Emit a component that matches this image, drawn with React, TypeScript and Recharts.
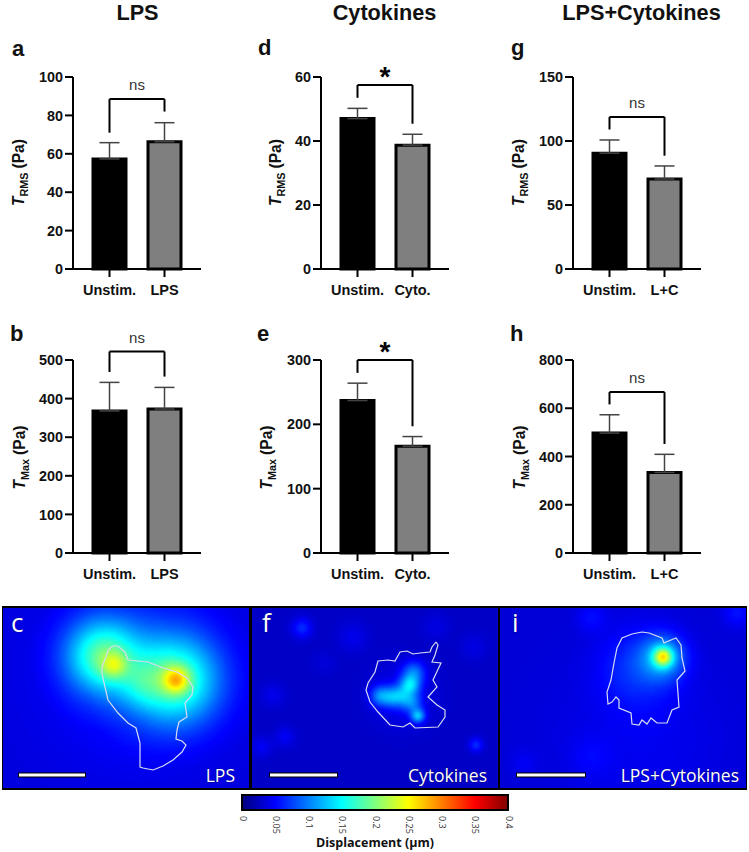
import React from 'react';
import {
  BarChart, Bar, Cell, XAxis, YAxis, ErrorBar, ReferenceLine, ReferenceArea, Label,
  ScatterChart, Scatter,
} from 'recharts';

const FONT = '"Liberation Sans", Arial, sans-serif';
const PANEL_FONT = '"Open Sans", sans-serif';

// bar values: [Unstim., treated]
const catsLps = ['Unstim.', 'LPS'];
const catsCyto = ['Unstim.', 'Cyto.'];
const catsBoth = ['Unstim.', 'L+C'];

const rmsLps = [57.3, 66.3];
const rmsLpsErr = [8.5, 9.9];
const maxLps = [368, 373];
const maxLpsErr = [74, 56];
const rmsCyto = [47, 38.7];
const rmsCytoErr = [3.2, 3.4];
const maxCyto = [237, 166];
const maxCytoErr = [27, 15];
const rmsBoth = [90.5, 70.3];
const rmsBothErr = [10.3, 10.2];
const maxBoth = [497, 334];
const maxBothErr = [76, 75];

const ticksA = [0, 20, 40, 60, 80, 100];
const ticksB = [0, 100, 200, 300, 400, 500];
const ticksD = [0, 20, 40, 60];
const ticksE = [0, 100, 200, 300];
const ticksG = [0, 50, 100, 150];
const ticksH = [0, 200, 400, 600, 800];

// significance brackets: [bar height, left leg end, right leg end]
const bracketA = [88.5, 71, 82];
const bracketB = [522, 469, 457];
const bracketD = [57.5, 53.5, 45.4];
const bracketE = [300, 280, 197];
const bracketG = [118.8, 109, 88.5];
const bracketH = [667, 616, 452];

// heat map hot spots: [x, y, spread, level] in panel pixels
const spotsLps = [
  [100, 48, 25, 0.38], [172, 72, 30, 0.38], [135, 60, 55, 0.09], [140, 75, 16, 0.12],
  [111, 57, 9, 0.28], [173, 72, 9, 0.45],
];
const spotsCyto = [
  [50, 20, 7, 0.1], [21, 87, 8, 0.04], [33, 129, 7, 0.05], [10, 139, 7, 0.05],
  [101, 29, 10, 0.04], [73, 55, 8, 0.02], [158, 77, 7, 0.25], [162, 64, 8, 0.16],
  [166, 108, 5, 0.24], [160, 95, 7, 0.15], [128, 88, 7, 0.18], [140, 89, 7, 0.17],
  [150, 88, 7, 0.14], [150, 88, 20, 0.06], [224, 137, 5, 0.1],
  [184, 19, 9, 0.03], [222, 39, 9, 0.03],
];
const spotsBoth = [
  [163, 49, 6, 0.48], [163, 49, 14, 0.25], [140, 59, 26, 0.1], [91, 9, 10, 0.05],
  [237, 5, 10, 0.06], [91, 149, 14, 0.03], [24, 155, 9, 0.03], [140, 130, 60, 0.03],
];

// cell outlines, panel pixels
const outlineLps = [
  [110, 38], [105, 42], [103, 49], [99, 59], [99, 66], [102, 79], [105, 92], [115, 105], [125, 115],
  [133, 120], [137, 135], [137, 159], [140, 160], [150, 162], [160, 158], [170, 152], [179, 144],
  [183, 137], [179, 133], [173, 131], [174, 122], [176, 114], [184, 109], [182, 95], [189, 87],
  [190, 79], [184, 70], [174, 64], [160, 60], [145, 54], [125, 52], [122, 44], [115, 38], [110, 38],
];
const outlineCyto = [
  [184, 34], [180, 39], [178, 44], [168, 45], [161, 46], [155, 43], [148, 44], [143, 53], [136, 52],
  [126, 53], [123, 64], [116, 75], [114, 82], [118, 94], [126, 104], [138, 117], [151, 119], [158, 115],
  [163, 120], [186, 119], [193, 109], [193, 102], [185, 97], [176, 89], [185, 79], [181, 72], [189, 55],
  [180, 54], [183, 47], [186, 37], [184, 34],
];
const outlineBoth = [
  [142, 24], [132, 26], [122, 30], [117, 40], [114, 55], [111, 72], [107, 84], [108, 96], [112, 94],
  [116, 89], [119, 92], [119, 100], [131, 105], [132, 116], [139, 117], [142, 112], [147, 116], [151, 110],
  [157, 115], [167, 115], [172, 102], [179, 99], [177, 72], [185, 63], [182, 50], [181, 37], [176, 30],
  [171, 32], [164, 35], [162, 30], [149, 25], [142, 24],
];

const scaleBarLps = [16, 82];
const scaleBarCyto = [18, 85];
const scaleBarBoth = [17, 85];

const colorbarTicks = [0, 0.05, 0.1, 0.15, 0.2, 0.25, 0.3, 0.35, 0.4];

const GAUSS = [1, 0.956, 0.835, 0.667, 0.487, 0.325, 0.198, 0.11, 0.056, 0.026, 0];
const JET = ['#00007f', '#0000ff', '#007fff', '#00ffff', '#7fff7f', '#ffff00', '#ff7f00', '#ff0000', '#7f0000'];

const toPoints = (rows: number[][]) => rows.map(([x, y]) => ({ x, y }));
const toSpots = (rows: number[][]) => rows.map(([x, y, s, level]) => ({ x, y, s, level }));

const HotSpot = (props: any) => {
  const { cx, cy, payload } = props;
  return <circle cx={cx} cy={cy} r={payload.s * 3} fill="url(#heatBlob)" opacity={payload.level} />;
};

const NoDot = () => <g />;

interface ForceChartProps {
  left: number;
  top: number;
  height: number;
  cats: string[];
  values: number[];
  errors: number[];
  ticks: number[];
  bracket: number[];
  sig: string;
  sub: string;
  labelX: number;
}

const ForceChart: React.FC<ForceChartProps> = ({ left, top, height, cats, values, errors, ticks, bracket, sig, sub, labelX }) => {
  const data = cats.map((name, i) => ({ name, value: values[i], err: [0, errors[i]] }));
  const yMax = ticks[ticks.length - 1];
  const isStar = sig === '*';

  const axisLabel = (p: any) => {
    const y = p.viewBox.y + p.viewBox.height / 2 + 33;
    const x = labelX - left;
    return (
      <text x={x} y={y} transform={`rotate(-90 ${x} ${y})`} fontFamily={FONT} fontWeight={700} fontSize={15.6} fill="#111">
        <tspan fontStyle="italic">T</tspan>
        <tspan fontSize={10.8} dy={4}>{sub}</tspan>
        <tspan dy={-4} dx={4}>(Pa)</tspan>
      </text>
    );
  };

  return (
    <div style={{ position: 'absolute', left, top }}>
      <BarChart width={249} height={height} data={data} margin={{ top: 47, right: 48, bottom: 0, left: 0 }}>
        <XAxis
          dataKey="name"
          height={41}
          padding={{ left: 9, right: 9 }}
          stroke="#000"
          strokeWidth={2}
          tickSize={8}
          tickMargin={8}
          interval={0}
          tick={{ fill: '#111', fontSize: 14.5, fontWeight: 700, fontFamily: FONT }}
        />
        <YAxis
          width={73}
          domain={[0, yMax]}
          ticks={ticks}
          interval={0}
          stroke="#000"
          strokeWidth={2}
          tickSize={8}
          tickMargin={2}
          tick={{ fill: '#111', fontSize: 14.4, fontWeight: 700, fontFamily: FONT }}
        >
          <Label content={axisLabel} />
        </YAxis>
        <Bar dataKey="value" barSize={33} stroke="#000" strokeWidth={3} isAnimationActive={false}>
          {data.map((d, i) => (
            <Cell key={d.name} fill={i === 0 ? '#000000' : '#7f7f7f'} />
          ))}
          <ErrorBar dataKey="err" direction="y" width={10} stroke="#444" strokeWidth={1.5} isAnimationActive={false} />
        </Bar>
        <ReferenceLine
          ifOverflow="visible"
          stroke="#000"
          strokeWidth={2}
          segment={[{ x: cats[0], y: bracket[0] }, { x: cats[1], y: bracket[0] }]}
          label={{
            value: sig,
            position: 'top',
            offset: isStar ? -1 : 9,
            fill: isStar ? '#000' : '#333',
            fontFamily: FONT,
            fontSize: isStar ? 28 : 15,
            fontWeight: isStar ? 700 : 400,
          }}
        />
        <ReferenceLine ifOverflow="visible" stroke="#000" strokeWidth={2}
          segment={[{ x: cats[0], y: bracket[0] }, { x: cats[0], y: bracket[1] }]} />
        <ReferenceLine ifOverflow="visible" stroke="#000" strokeWidth={2}
          segment={[{ x: cats[1], y: bracket[0] }, { x: cats[1], y: bracket[2] }]} />
      </BarChart>
    </div>
  );
};

interface HeatPanelProps {
  left: number;
  base: string;
  spots: number[][];
  outline: number[][];
  scaleBar: number[];
}

const PANEL_W = 246;
const PANEL_H = 180;

const HeatPanel: React.FC<HeatPanelProps> = ({ left, base, spots, outline, scaleBar }) => {
  const axes = [
    <XAxis key="x" hide type="number" dataKey="x" domain={[0, PANEL_W]} />,
    <YAxis key="y" hide reversed type="number" dataKey="y" domain={[0, PANEL_H]} />,
  ];
  return (
    <div style={{ position: 'absolute', left, top: 608, width: PANEL_W, height: PANEL_H, overflow: 'hidden' }}>
      <div style={{ position: 'absolute', inset: 0, background: base, filter: 'url(#jetMap)' }}>
        <ScatterChart width={PANEL_W} height={PANEL_H} margin={{ top: 0, right: 0, bottom: 0, left: 0 }}>
          {axes}
          <Scatter data={toSpots(spots)} shape={HotSpot} isAnimationActive={false} />
        </ScatterChart>
      </div>
      <div style={{ position: 'absolute', inset: 0 }}>
        <ScatterChart width={PANEL_W} height={PANEL_H} margin={{ top: 0, right: 0, bottom: 0, left: 0 }}>
          {axes}
          <ReferenceLine ifOverflow="visible" stroke="#000" strokeWidth={5}
            segment={[{ x: scaleBar[0] - 1, y: 167 }, { x: scaleBar[1] + 1, y: 167 }]} />
          <ReferenceLine ifOverflow="visible" stroke="#fff" strokeWidth={3}
            segment={[{ x: scaleBar[0], y: 167 }, { x: scaleBar[1], y: 167 }]} />
          <Scatter
            data={toPoints(outline)}
            shape={NoDot}
            line={{ stroke: '#d8dcf0', strokeWidth: 1.2 }}
            isAnimationActive={false}
          />
        </ScatterChart>
      </div>
    </div>
  );
};

const ColorbarTick = (props: any) => {
  const { x, y, payload } = props;
  const top = y - 2;
  return (
    <text x={x} y={top} transform={`rotate(90 ${x} ${top})`} dominantBaseline="middle" fontFamily={PANEL_FONT} fontSize={9} fill="#333">
      {String(payload.value)}
    </text>
  );
};

const Colorbar = () => (
  <div style={{ position: 'absolute', left: 225, top: 790 }}>
    <ScatterChart width={300} height={50} margin={{ top: 5, right: 17, bottom: 0, left: 17 }}>
      <XAxis
        type="number"
        dataKey="x"
        domain={[0, 0.4]}
        ticks={colorbarTicks}
        interval={0}
        height={30}
        axisLine={false}
        tickLine={false}
        tick={<ColorbarTick />}
      />
      <YAxis hide type="number" dataKey="y" domain={[0, 1]} />
      <ReferenceArea ifOverflow="visible" x1={0} x2={0.4} y1={0} y2={1} fill="url(#jetBar)" fillOpacity={1} stroke="#000" strokeWidth={2} />
      <Scatter data={colorbarTicks.map((x) => ({ x, y: 0 }))} shape={NoDot} isAnimationActive={false} />
    </ScatterChart>
  </div>
);

const HEADINGS: [string, number][] = [['LPS', 137.5], ['Cytokines', 384.5], ['LPS+Cytokines', 641.5]];
const LETTERS: [string, number, number][] = [
  ['a', 12, 56], ['b', 10, 341], ['d', 258, 55], ['e', 257, 341], ['g', 511, 55], ['h', 510, 341],
];
const PANEL_LETTERS: [string, number][] = [['c', 11], ['f', 262], ['i', 512]];
const PANEL_CAPTIONS: [string, number][] = [['LPS', 235], ['Cytokines', 487], ['LPS+Cytokines', 739]];

export default function App() {
  return (
    <div style={{ position: 'absolute', left: 0, top: 0, width: 749, height: 852, background: '#fff', overflow: 'hidden' }}>
      <ForceChart left={0} top={30} height={280} cats={catsLps} values={rmsLps} errors={rmsLpsErr} ticks={ticksA} bracket={bracketA} sig="ns" sub="RMS" labelX={24} />
      <ForceChart left={0} top={313} height={281} cats={catsLps} values={maxLps} errors={maxLpsErr} ticks={ticksB} bracket={bracketB} sig="ns" sub="Max" labelX={25} />
      <ForceChart left={248} top={30} height={280} cats={catsCyto} values={rmsCyto} errors={rmsCytoErr} ticks={ticksD} bracket={bracketD} sig="*" sub="RMS" labelX={281} />
      <ForceChart left={248} top={313} height={281} cats={catsCyto} values={maxCyto} errors={maxCytoErr} ticks={ticksE} bracket={bracketE} sig="*" sub="Max" labelX={272} />
      <ForceChart left={500} top={30} height={280} cats={catsBoth} values={rmsBoth} errors={rmsBothErr} ticks={ticksG} bracket={bracketG} sig="ns" sub="RMS" labelX={524} />
      <ForceChart left={500} top={313} height={281} cats={catsBoth} values={maxBoth} errors={maxBothErr} ticks={ticksH} bracket={bracketH} sig="ns" sub="Max" labelX={525} />

      <div style={{ position: 'absolute', left: 2, top: 606, width: 745, height: 184, background: '#000' }} />
      <HeatPanel left={3} base="rgb(24,24,24)" spots={spotsLps} outline={outlineLps} scaleBar={scaleBarLps} />
      <HeatPanel left={252} base="rgb(18,18,18)" spots={spotsCyto} outline={outlineCyto} scaleBar={scaleBarCyto} />
      <HeatPanel left={500} base="rgb(22,22,22)" spots={spotsBoth} outline={outlineBoth} scaleBar={scaleBarBoth} />

      <Colorbar />

      <svg width={749} height={852} style={{ position: 'absolute', left: 0, top: 0, pointerEvents: 'none' }}>
        <defs>
          <radialGradient id="heatBlob">
            {GAUSS.map((a, i) => (
              <stop key={i} offset={`${i * 10}%`} stopColor="#fff" stopOpacity={a} />
            ))}
          </radialGradient>
          <linearGradient id="jetBar" x1="0" y1="0" x2="1" y2="0">
            {JET.map((c, i) => (
              <stop key={i} offset={`${i * 12.5}%`} stopColor={c} />
            ))}
          </linearGradient>
          <filter id="jetMap" x="0" y="0" width="100%" height="100%" colorInterpolationFilters="sRGB">
            <feComponentTransfer>
              <feFuncR type="table" tableValues="0 0 0 0 0.5 1 1 1 0.5" />
              <feFuncG type="table" tableValues="0 0 0.5 1 1 1 0.5 0 0" />
              <feFuncB type="table" tableValues="0.5 1 1 1 0.5 0 0 0 0" />
            </feComponentTransfer>
          </filter>
        </defs>
        {HEADINGS.map(([t, x]) => (
          <text key={t} x={x} y={20} textAnchor="middle" fontFamily={FONT} fontWeight={700} fontSize={21.7} fill="#111">{t}</text>
        ))}
        {LETTERS.map(([t, x, y]) => (
          <text key={t} x={x} y={y} fontFamily={FONT} fontWeight={700} fontSize={22} fill="#111">{t}</text>
        ))}
        {PANEL_LETTERS.map(([t, x]) => (
          <text key={t} x={x} y={632} fontFamily={PANEL_FONT} fontSize={26} fill="#fff" stroke="#000" strokeOpacity={0.4} strokeWidth={1} paintOrder="stroke">{t}</text>
        ))}
        {PANEL_CAPTIONS.map(([t, x]) => (
          <text key={t} x={x} y={782} textAnchor="end" fontFamily={PANEL_FONT} fontSize={17.5} fill="#fff" stroke="#000" strokeOpacity={0.4} strokeWidth={1} paintOrder="stroke">{t}</text>
        ))}
        <text x={375} y={847} textAnchor="middle" fontFamily={PANEL_FONT} fontWeight={700} fontSize={12.5} fill="#111">Displacement (µm)</text>
      </svg>
    </div>
  );
}
